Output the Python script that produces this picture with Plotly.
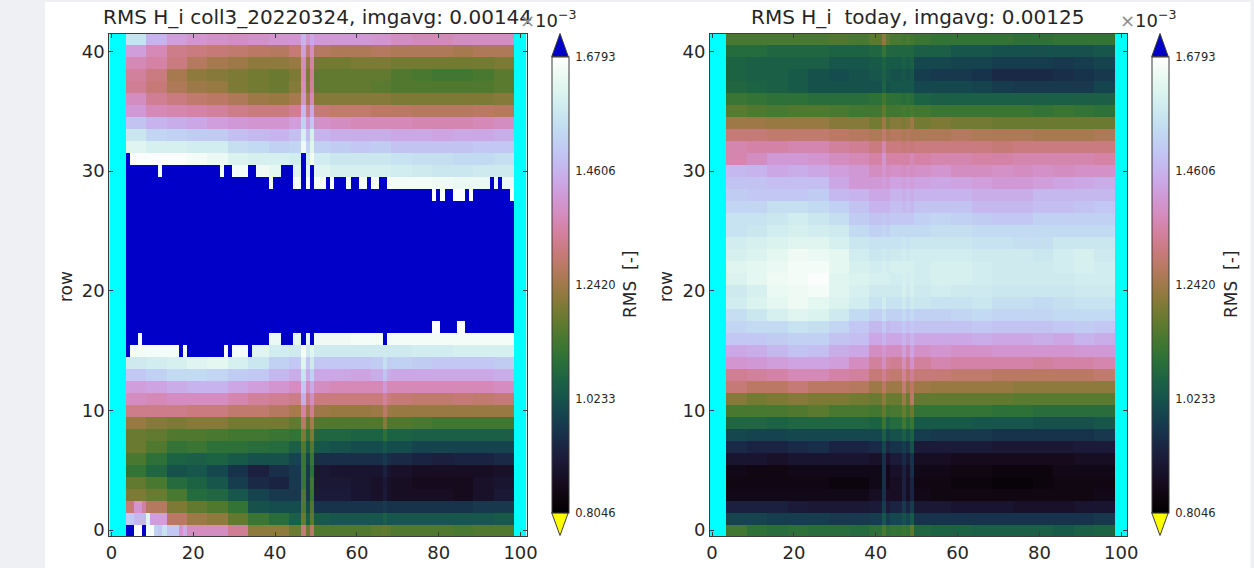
import math
import numpy as np
import plotly.graph_objects as go

W, H = 1254, 568
ZMIN, ZMAX = 0.8046, 1.6793
OVER = 1.75
BLOCK = 5              # each listed value covers five neighbouring columns
FIRST_COL, LAST_COL = 4, 98
N_COLS, N_ROWS = 102, 42

cbar_ticks = [0.8046, 1.0233, 1.2420, 1.4606, 1.6793]
cbar_labels = ["0.8046", "1.0233", "1.2420", "1.4606", "1.6793"]
x_ticks = [0, 20, 40, 60, 80, 100]
y_ticks = [0, 10, 20, 30, 40]
title_left = "RMS H_i coll3_20220324, imgavg: 0.00144"
title_right = "RMS H_i\u00a0\u00a0today, imgavg: 0.00125"

# RMS x 1e3, row 0 first, blocks of columns 4-8, 9-13, ... 94-98
left_rows = [
 [1.67,1.55,1.45,1.38,1.38,1.33,1.22,1.22,1.18,1.15,1.15,1.15,1.16,1.15,1.15,1.15,1.14,1.15,1.15],
 [1.47,1.42,1.28,1.24,1.22,1.17,1.12,1.09,1.05,1.04,1.03,1.03,1.03,1.03,1.03,1.03,1.03,1.03,1.04],
 [1.30,1.27,1.20,1.17,1.15,1.11,1.02,1.01,1.01,0.96,0.96,0.96,0.96,0.96,0.96,0.96,0.96,0.97,0.97],
 [1.20,1.18,1.14,1.08,1.07,1.03,0.99,0.97,0.97,0.91,0.91,0.89,0.88,0.87,0.87,0.87,0.86,0.88,0.90],
 [1.17,1.14,1.08,1.06,1.03,0.98,0.94,0.93,0.97,0.90,0.90,0.89,0.88,0.87,0.86,0.86,0.86,0.88,0.89],
 [1.11,1.07,1.02,1.03,1.00,0.96,0.92,0.95,0.97,0.90,0.89,0.89,0.89,0.88,0.87,0.87,0.87,0.87,0.88],
 [1.14,1.10,1.06,1.05,1.06,1.04,1.02,1.02,0.99,0.95,0.95,0.95,0.95,0.94,0.93,0.92,0.93,0.93,0.94],
 [1.18,1.15,1.11,1.12,1.10,1.10,1.09,1.08,1.05,1.03,1.02,1.01,1.01,1.01,0.99,0.99,0.99,0.99,0.99],
 [1.18,1.17,1.15,1.15,1.14,1.13,1.13,1.12,1.11,1.07,1.07,1.06,1.06,1.06,1.05,1.05,1.05,1.05,1.05],
 [1.23,1.21,1.20,1.21,1.21,1.19,1.19,1.19,1.17,1.15,1.15,1.15,1.15,1.15,1.14,1.13,1.13,1.13,1.13],
 [1.32,1.32,1.32,1.31,1.31,1.29,1.29,1.27,1.25,1.24,1.23,1.23,1.24,1.23,1.23,1.23,1.23,1.23,1.23],
 [1.38,1.37,1.38,1.38,1.38,1.36,1.34,1.33,1.32,1.31,1.31,1.31,1.31,1.30,1.29,1.29,1.30,1.29,1.30],
 [1.42,1.43,1.45,1.46,1.46,1.44,1.42,1.40,1.38,1.38,1.37,1.37,1.37,1.37,1.37,1.37,1.37,1.37,1.38],
 [1.50,1.52,1.54,1.54,1.53,1.51,1.50,1.47,1.45,1.44,1.44,1.43,1.45,1.44,1.44,1.44,1.44,1.44,1.45],
 [1.58,1.59,1.60,1.62,1.63,1.60,1.57,1.52,1.50,1.50,1.50,1.50,1.51,1.52,1.51,1.50,1.50,1.50,1.51],
 [1.66,1.66,1.66,1.67,1.67,1.66,1.62,1.59,1.58,1.58,1.58,1.58,1.58,1.58,1.59,1.59,1.60,1.60,1.60],
 [1.66,1.66,1.66,1.66,1.66,1.66,1.66,1.64,1.63,1.65,1.65,1.66,1.66,1.66,1.66,1.66,1.66,1.66,1.66],
 [1.67,1.67,1.67,1.67,1.67,1.67,1.67,1.67,1.67,1.67,1.67,1.67,1.67,1.67,1.67,1.67,1.67,1.67,1.67],
 [1.75,1.75,1.75,1.75,1.75,1.75,1.75,1.75,1.75,1.75,1.75,1.75,1.75,1.75,1.75,1.75,1.75,1.75,1.75],
 [1.75,1.75,1.75,1.75,1.75,1.75,1.75,1.75,1.75,1.75,1.75,1.75,1.75,1.75,1.75,1.75,1.75,1.75,1.75],
 [1.75,1.75,1.75,1.75,1.75,1.75,1.75,1.75,1.75,1.75,1.75,1.75,1.75,1.75,1.75,1.75,1.75,1.75,1.75],
 [1.75,1.75,1.75,1.75,1.75,1.75,1.75,1.75,1.75,1.75,1.75,1.75,1.75,1.75,1.75,1.75,1.75,1.75,1.75],
 [1.75,1.75,1.75,1.75,1.75,1.75,1.75,1.75,1.75,1.75,1.75,1.75,1.75,1.75,1.75,1.75,1.75,1.75,1.75],
 [1.75,1.75,1.75,1.75,1.75,1.75,1.75,1.75,1.75,1.75,1.75,1.75,1.75,1.75,1.75,1.75,1.75,1.75,1.75],
 [1.75,1.75,1.75,1.75,1.75,1.75,1.75,1.75,1.75,1.75,1.75,1.75,1.75,1.75,1.75,1.75,1.75,1.75,1.75],
 [1.75,1.75,1.75,1.75,1.75,1.75,1.75,1.75,1.75,1.75,1.75,1.75,1.75,1.75,1.75,1.75,1.75,1.75,1.75],
 [1.75,1.75,1.75,1.75,1.75,1.75,1.75,1.75,1.75,1.75,1.75,1.75,1.75,1.75,1.75,1.75,1.75,1.75,1.75],
 [1.75,1.75,1.75,1.75,1.75,1.75,1.75,1.75,1.75,1.75,1.75,1.75,1.75,1.75,1.75,1.75,1.75,1.75,1.75],
 [1.67,1.67,1.67,1.67,1.67,1.67,1.67,1.67,1.67,1.67,1.67,1.67,1.67,1.67,1.67,1.67,1.67,1.67,1.67],
 [1.65,1.65,1.65,1.66,1.66,1.66,1.66,1.66,1.66,1.66,1.66,1.66,1.66,1.66,1.66,1.65,1.64,1.64,1.64],
 [1.65,1.66,1.66,1.66,1.66,1.66,1.65,1.63,1.62,1.62,1.60,1.60,1.60,1.59,1.58,1.57,1.57,1.58,1.58],
 [1.67,1.67,1.67,1.66,1.64,1.61,1.60,1.60,1.59,1.59,1.57,1.57,1.57,1.56,1.55,1.55,1.54,1.54,1.55],
 [1.62,1.60,1.60,1.59,1.59,1.55,1.54,1.52,1.53,1.52,1.51,1.50,1.51,1.49,1.49,1.49,1.49,1.50,1.50],
 [1.57,1.53,1.52,1.51,1.51,1.48,1.47,1.46,1.48,1.46,1.45,1.45,1.45,1.44,1.44,1.43,1.44,1.44,1.45],
 [1.49,1.46,1.45,1.44,1.42,1.41,1.40,1.40,1.42,1.39,1.38,1.37,1.37,1.37,1.36,1.36,1.36,1.37,1.38],
 [1.41,1.37,1.36,1.35,1.34,1.32,1.31,1.31,1.33,1.30,1.29,1.29,1.28,1.28,1.27,1.27,1.27,1.28,1.27],
 [1.38,1.33,1.31,1.29,1.28,1.26,1.24,1.23,1.25,1.21,1.21,1.21,1.21,1.20,1.20,1.20,1.20,1.20,1.21],
 [1.33,1.30,1.26,1.24,1.23,1.20,1.19,1.18,1.21,1.17,1.17,1.17,1.16,1.15,1.15,1.15,1.15,1.15,1.16],
 [1.34,1.31,1.25,1.22,1.21,1.20,1.19,1.18,1.20,1.17,1.17,1.17,1.17,1.15,1.14,1.13,1.13,1.14,1.16],
 [1.37,1.35,1.31,1.27,1.25,1.24,1.22,1.22,1.23,1.19,1.19,1.20,1.20,1.19,1.19,1.19,1.19,1.19,1.20],
 [1.42,1.37,1.32,1.31,1.30,1.29,1.28,1.27,1.30,1.27,1.26,1.26,1.27,1.26,1.26,1.26,1.25,1.26,1.26],
 [1.56,1.46,1.42,1.40,1.39,1.38,1.39,1.40,1.40,1.41,1.41,1.41,1.40,1.38,1.37,1.37,1.38,1.38,1.38],
]

right_rows = [
 [1.13,1.10,1.09,1.10,1.09,1.09,1.08,1.10,1.11,1.07,1.06,1.06,1.05,1.05,1.05,1.05,1.04,1.05,1.06],
 [0.99,0.99,0.98,0.98,0.98,0.97,0.97,0.98,1.00,0.96,0.96,0.96,0.96,0.96,0.96,0.96,0.96,0.96,0.97],
 [0.92,0.92,0.92,0.91,0.90,0.90,0.90,0.91,0.93,0.90,0.90,0.89,0.89,0.89,0.88,0.88,0.88,0.89,0.89],
 [0.85,0.85,0.85,0.85,0.85,0.85,0.85,0.87,0.87,0.85,0.84,0.84,0.84,0.84,0.84,0.84,0.84,0.84,0.85],
 [0.84,0.84,0.84,0.84,0.84,0.83,0.83,0.85,0.87,0.84,0.84,0.83,0.83,0.82,0.82,0.83,0.84,0.84,0.84],
 [0.85,0.84,0.84,0.85,0.85,0.85,0.85,0.85,0.88,0.85,0.85,0.84,0.84,0.83,0.83,0.83,0.85,0.85,0.85],
 [0.89,0.89,0.88,0.89,0.89,0.89,0.89,0.88,0.91,0.87,0.87,0.86,0.86,0.86,0.86,0.86,0.86,0.87,0.87],
 [0.94,0.93,0.93,0.94,0.95,0.93,0.93,0.94,0.96,0.91,0.91,0.91,0.91,0.90,0.90,0.90,0.90,0.91,0.91],
 [1.00,0.99,0.99,1.00,1.00,1.00,1.00,1.00,1.02,0.98,0.97,0.97,0.97,0.96,0.96,0.96,0.96,0.96,0.97],
 [1.07,1.07,1.06,1.07,1.07,1.07,1.07,1.06,1.08,1.04,1.04,1.04,1.03,1.03,1.03,1.02,1.02,1.02,1.03],
 [1.14,1.14,1.14,1.15,1.16,1.14,1.14,1.13,1.14,1.11,1.11,1.11,1.11,1.10,1.10,1.09,1.09,1.09,1.09],
 [1.21,1.19,1.20,1.21,1.20,1.20,1.19,1.18,1.18,1.17,1.17,1.17,1.17,1.17,1.16,1.16,1.16,1.16,1.16],
 [1.30,1.28,1.28,1.30,1.28,1.28,1.27,1.24,1.24,1.24,1.23,1.23,1.23,1.23,1.22,1.22,1.22,1.22,1.22],
 [1.33,1.34,1.35,1.37,1.37,1.35,1.34,1.30,1.29,1.30,1.30,1.29,1.29,1.28,1.28,1.28,1.28,1.28,1.29],
 [1.40,1.41,1.42,1.43,1.43,1.42,1.38,1.34,1.33,1.34,1.36,1.35,1.35,1.35,1.35,1.34,1.35,1.35,1.36],
 [1.44,1.45,1.47,1.49,1.48,1.45,1.44,1.38,1.38,1.39,1.40,1.39,1.39,1.40,1.40,1.40,1.40,1.41,1.41],
 [1.50,1.50,1.51,1.52,1.52,1.49,1.48,1.44,1.44,1.44,1.44,1.44,1.45,1.44,1.44,1.45,1.44,1.46,1.45],
 [1.53,1.54,1.54,1.56,1.55,1.53,1.50,1.47,1.48,1.49,1.49,1.49,1.50,1.49,1.49,1.49,1.50,1.51,1.50],
 [1.55,1.57,1.60,1.62,1.61,1.58,1.54,1.52,1.52,1.52,1.52,1.53,1.54,1.53,1.53,1.53,1.54,1.54,1.54],
 [1.59,1.61,1.63,1.65,1.63,1.61,1.59,1.56,1.56,1.57,1.56,1.56,1.57,1.55,1.55,1.54,1.55,1.56,1.56],
 [1.58,1.60,1.64,1.65,1.66,1.62,1.60,1.58,1.58,1.58,1.59,1.58,1.58,1.57,1.57,1.57,1.57,1.58,1.58],
 [1.61,1.63,1.65,1.66,1.67,1.62,1.61,1.60,1.59,1.59,1.60,1.60,1.59,1.58,1.58,1.58,1.58,1.59,1.59],
 [1.62,1.63,1.64,1.66,1.66,1.63,1.60,1.59,1.60,1.59,1.60,1.60,1.59,1.58,1.58,1.58,1.59,1.60,1.59],
 [1.60,1.61,1.63,1.65,1.64,1.63,1.59,1.57,1.58,1.59,1.59,1.59,1.58,1.58,1.58,1.57,1.59,1.60,1.58],
 [1.59,1.60,1.61,1.62,1.62,1.60,1.57,1.56,1.56,1.57,1.57,1.57,1.56,1.56,1.55,1.55,1.57,1.57,1.57],
 [1.56,1.57,1.59,1.60,1.59,1.58,1.54,1.52,1.54,1.54,1.55,1.55,1.54,1.54,1.54,1.54,1.54,1.54,1.54],
 [1.56,1.56,1.57,1.59,1.57,1.55,1.51,1.49,1.50,1.52,1.53,1.52,1.51,1.50,1.50,1.52,1.52,1.52,1.52],
 [1.53,1.53,1.55,1.55,1.54,1.52,1.49,1.46,1.48,1.49,1.49,1.49,1.47,1.47,1.47,1.48,1.48,1.49,1.50],
 [1.51,1.50,1.50,1.50,1.51,1.47,1.46,1.44,1.46,1.46,1.46,1.46,1.45,1.45,1.45,1.47,1.47,1.47,1.47],
 [1.49,1.49,1.48,1.48,1.48,1.44,1.41,1.41,1.43,1.43,1.44,1.43,1.42,1.41,1.41,1.42,1.43,1.44,1.45],
 [1.47,1.46,1.44,1.45,1.44,1.42,1.41,1.38,1.39,1.39,1.40,1.38,1.38,1.39,1.38,1.39,1.38,1.39,1.39],
 [1.36,1.38,1.41,1.41,1.40,1.38,1.37,1.35,1.35,1.35,1.36,1.36,1.35,1.35,1.36,1.36,1.36,1.36,1.35],
 [1.36,1.35,1.35,1.36,1.36,1.34,1.33,1.31,1.31,1.31,1.31,1.31,1.31,1.30,1.31,1.31,1.31,1.31,1.31],
 [1.30,1.30,1.29,1.29,1.29,1.28,1.27,1.26,1.27,1.26,1.26,1.27,1.26,1.26,1.26,1.25,1.25,1.25,1.26],
 [1.24,1.24,1.23,1.23,1.23,1.21,1.21,1.19,1.21,1.19,1.20,1.19,1.19,1.18,1.18,1.18,1.18,1.18,1.18],
 [1.16,1.15,1.14,1.15,1.15,1.14,1.13,1.13,1.13,1.13,1.12,1.12,1.12,1.12,1.12,1.11,1.12,1.11,1.10],
 [1.12,1.11,1.10,1.10,1.09,1.09,1.09,1.10,1.10,1.06,1.05,1.05,1.05,1.05,1.05,1.05,1.05,1.05,1.05],
 [1.07,1.06,1.05,1.04,1.02,1.02,1.02,1.02,1.03,1.00,1.00,1.00,0.99,0.98,0.97,0.97,0.97,0.97,0.99],
 [1.06,1.05,1.05,1.04,1.02,1.01,1.02,1.03,1.02,0.98,0.97,0.97,0.96,0.94,0.94,0.94,0.95,0.96,0.97],
 [1.06,1.05,1.05,1.05,1.05,1.03,1.03,1.04,1.04,1.00,1.00,0.99,0.99,0.98,0.98,0.98,0.97,0.98,0.99],
 [1.08,1.08,1.07,1.07,1.07,1.06,1.06,1.07,1.07,1.05,1.05,1.03,1.03,1.02,1.02,1.02,1.02,1.02,1.03],
 [1.14,1.14,1.14,1.14,1.14,1.15,1.14,1.16,1.14,1.12,1.11,1.11,1.11,1.11,1.10,1.10,1.11,1.11,1.11],
]

# Single columns that stand out from their neighbours, row 0 first
left_col47 = [1.30,1.18,1.15,1.15,1.12,1.12,1.12,1.15,1.20,1.28,1.35,1.45,1.50,1.56,1.62,1.66,
              1.75,1.75,1.75,1.75,1.75,1.75,1.75,1.75,1.75,1.75,1.75,1.75,1.75,1.75,1.75,1.75,
              1.65,1.60,1.52,1.47,1.40,1.38,1.37,1.38,1.42,1.46]
left_col49 = [1.28,1.16,1.15,1.12,1.13,1.10,1.12,1.15,1.20,1.25,1.33,1.38,1.44,1.52,1.58,1.62,
              1.75,1.75,1.75,1.75,1.75,1.75,1.75,1.75,1.75,1.75,1.75,1.75,1.75,1.75,1.75,1.66,
              1.62,1.60,1.50,1.44,1.37,1.34,1.33,1.35,1.38,1.44]
left_col67_low = [1.17,1.05,0.97,0.91,0.90,0.92,0.97,1.03,1.10,1.21,1.28,1.34,1.41,1.49,1.55]
right_col42 = [1.14,1.03,0.98,0.95,0.95,0.95,0.95,1.00,1.05,1.12,1.17,1.22,1.28,1.33,1.38,1.40,1.46,
               1.50,1.55,1.59,1.58,1.60,1.60,1.58,1.56,1.53,1.50,1.46,1.44,1.42,1.40,1.40,1.36,1.29,
               1.24,1.17,1.13,1.06,1.05,1.06,1.11,1.22]
right_col47 = [1.12,1.02,0.97,0.92,0.92,0.92,0.94,0.98,1.05,1.13,1.18,1.24,1.30,1.34,1.38,1.42,1.46,
               1.50,1.54,1.58,1.60,1.60,1.60,1.59,1.57,1.54,1.50,1.47,1.45,1.42,1.38,1.35,1.30,1.26,
               1.20,1.14,1.09,1.03,1.03,1.05,1.07,1.13]
right_col49 = [1.16,1.04,0.98,0.93,0.93,0.95,0.96,1.02,1.06,1.12,1.18,1.28,1.28,1.33,1.39,1.43,1.46,
               1.50,1.54,1.58,1.60,1.60,1.60,1.59,1.57,1.54,1.50,1.47,1.45,1.42,1.38,1.37,1.30,1.26,
               1.24,1.14,1.09,1.03,1.03,1.05,1.07,1.13]

# Left panel, cells above the colour range: (row, first column, last column)
left_over_runs = [
 (0,4,5),(0,8,8),
 (15,4,4),(15,17,17),(15,19,27),(15,29,29),(15,34,34),
 (16,4,6),(16,8,38),(16,42,44),(16,47,47),(16,49,49),(16,67,67),
 (17,4,78),(17,81,84),(17,87,98),
 (28,4,78),(28,80,80),(28,82,83),(28,87,87),(28,89,97),
 (29,4,38),(29,40,44),(29,47,47),(29,49,49),(29,53,53),(29,55,57),(29,59,60),
 (29,63,63),(29,66,67),(29,93,93),(29,95,95),
 (30,4,11),(30,13,26),(30,28,29),(30,34,35),(30,42,44),(30,47,47),(30,49,49),
 (31,4,4),(31,47,47),
]
# Left panel, bottom corner cells: (row, column, value)
left_cells = [(0,6,1.67),(0,7,1.67),(0,9,1.66),(0,10,1.66),(0,11,1.52),(0,12,1.50),(0,13,1.56),
              (0,14,1.50),(0,15,1.50),(0,16,1.50),(0,17,1.40),(1,9,1.62),(1,4,1.50),(1,5,1.50),
              (2,5,1.30),(2,6,1.40),(2,7,1.40),(2,8,1.34)]


def build(rows, stripes):
    z = np.full((N_ROWS, N_COLS), np.nan)
    for r, vals in enumerate(rows):
        z[r, FIRST_COL:LAST_COL + 1] = np.repeat(vals, BLOCK)
    for col, vals in stripes:
        z[:len(vals), col] = vals
    return z


z_left = build(left_rows, [(47, left_col47), (49, left_col49), (67, left_col67_low)])
z_right = build(right_rows, [(42, right_col42), (47, right_col47), (49, right_col49)])
for r, a, b in left_over_runs:
    z_left[r, a:b + 1] = OVER
for r, c, v in left_cells:
    z_left[r, c] = v


def cubehelix(n=48, s=0.5, r=-1.5, h=1.0):
    stops = []
    for i in range(n + 1):
        x = i / n
        a = h * x * (1 - x) / 2
        phi = 2 * math.pi * (s / 3 + r * x)
        c, d = math.cos(phi), math.sin(phi)
        rgb = (x + a * (-0.14861 * c + 1.78277 * d),
               x + a * (-0.29227 * c - 0.90649 * d),
               x + a * (1.97294 * c))
        rgb = [int(round(255 * min(1, max(0, v)))) for v in rgb]
        stops.append([x, f"rgb({rgb[0]},{rgb[1]},{rgb[2]})"])
    return stops


px = lambda v: v / W
py = lambda v: 1 - v / H

INK = "#262626"
AXIS = "#3c3c3c"
BLUE = "#0000c8"
CYAN = "#00ffff"
FONT = "DejaVu Sans"
CMAP = cubehelix()

panels = [
    dict(x0=109.3, x1=526.7, cb=551.7, z=z_left, xa="x", ya="y", title=title_left, tcx=318, ttl=317,
         tsize=20, lab=630, row=66, exp=518),
    dict(x0=710.0, x1=1127.4, cb=1151.7, z=z_right, xa="x2", ya="y2", title=title_right, tcx=918.7, ttl=917,
         tsize=20, lab=1231, row=666, exp=1118),
]

fig = go.Figure()
shapes = [dict(type="rect", xref="paper", yref="paper", x0=px(45), x1=px(1250.5), y0=0, y1=py(2),
               fillcolor="white", line_width=0, layer="below")]
annotations = []
CB_W = 16.6
CB_TOP, CB_BOT = 56.7, 512.7
for p in panels:
    grid = dict(x=list(range(N_COLS)), y=list(range(N_ROWS)), xaxis=p["xa"], yaxis=p["ya"],
                hoverongaps=False, showscale=False)
    bad = np.where(np.isnan(p["z"]), 1.0, np.nan)
    fig.add_trace(go.Heatmap(z=bad, colorscale=[[0, CYAN], [1, CYAN]], **grid))
    main = np.where(p["z"] > ZMAX, np.nan, p["z"])
    fig.add_trace(go.Heatmap(
        z=main, x=grid["x"], y=grid["y"], xaxis=p["xa"], yaxis=p["ya"],
        zmin=ZMIN, zmax=ZMAX, colorscale=CMAP, hoverongaps=False,
        colorbar=dict(
            x=px(p["cb"]), xanchor="left", xref="paper", xpad=0, ypad=0,
            y=py(CB_BOT), yanchor="bottom", yref="paper", len=(CB_BOT - CB_TOP) / H,
            thickness=CB_W, outlinecolor=AXIS, outlinewidth=1,
            tickmode="array", tickvals=cbar_ticks, ticktext=cbar_labels, ticks="outside",
            ticklen=4, tickcolor="rgba(0,0,0,0)", tickwidth=1,
            tickfont=dict(family=FONT, size=11.5, color=INK),
        ),
    ))
    over = np.where(p["z"] > ZMAX, p["z"], np.nan)
    if np.isfinite(over).any():
        fig.add_trace(go.Heatmap(z=over, colorscale=[[0, BLUE], [1, BLUE]], **grid))
    xc = p["cb"] + CB_W / 2
    x_l, x_r = p["cb"], p["cb"] + CB_W
    shapes.append(dict(type="path", xref="paper", yref="paper",
                       path=f"M{px(x_l)},{py(CB_TOP)} L{px(x_r)},{py(CB_TOP)} L{px(xc)},{py(33.5)} Z",
                       fillcolor=BLUE, line=dict(color=AXIS, width=1)))
    shapes.append(dict(type="path", xref="paper", yref="paper",
                       path=f"M{px(x_l)},{py(CB_BOT)} L{px(x_r)},{py(CB_BOT)} L{px(xc)},{py(535.5)} Z",
                       fillcolor="#ffff00", line=dict(color=AXIS, width=1)))
    for tv in cbar_ticks:
        yy = py(CB_BOT) + (tv - ZMIN) / (ZMAX - ZMIN) * (CB_BOT - CB_TOP) / H
        shapes.append(dict(type="line", xref="paper", yref="paper", x0=px(x_r - 5), x1=px(x_r), y0=yy, y1=yy,
                           line=dict(color=AXIS, width=1)))
    annotations += [
        dict(text=p["title"], xref="paper", yref="paper", x=px(p["ttl"]), y=py(31), xanchor="center",
             yanchor="bottom", showarrow=False, font=dict(family=FONT, size=p["tsize"], color=INK)),
        dict(text="<span style='color:#8c8c8c'>\u00d7</span>10<sup>\u22123</sup>", xref="paper", yref="paper",
             x=px(p["exp"]), y=py(33), xanchor="left", yanchor="bottom", showarrow=False,
             font=dict(family=FONT, size=18, color=INK)),
        dict(text="row", xref="paper", yref="paper", x=px(p["row"]), y=py(287), textangle=-90,
             xanchor="center", yanchor="middle", showarrow=False, font=dict(family=FONT, size=17, color=INK)),
        dict(text="RMS\u00a0\u00a0[-]", xref="paper", yref="paper", x=px(p["lab"]), y=py(285), textangle=-90,
             xanchor="center", yanchor="middle", showarrow=False, font=dict(family=FONT, size=17, color=INK)),
        dict(text="column", xref="paper", yref="paper", x=px(p["tcx"]), y=py(564), xanchor="center",
             yanchor="top", showarrow=False, font=dict(family=FONT, size=18, color=INK)),
    ]

axis_common = dict(
    showgrid=False, zeroline=False, showline=True, linecolor=AXIS, linewidth=1, mirror="ticks",
    ticks="inside", ticklen=4, tickcolor=AXIS, tickwidth=1,
    tickfont=dict(family=FONT, size=18, color=INK),
)
ydom = [py(536), py(33.5)]
layout_axes = {}
for i, p in enumerate(panels):
    sx = "" if i == 0 else "2"
    layout_axes["xaxis" + sx] = dict(axis_common, domain=[px(p["x0"]), px(p["x1"])], range=[-0.5, 101.5],
                                     tickmode="array", tickvals=x_ticks, anchor="y" + sx)
    layout_axes["yaxis" + sx] = dict(axis_common, domain=ydom, range=[-0.5, 41.5],
                                     tickmode="array", tickvals=y_ticks, anchor="x" + sx)

fig.update_layout(
    width=W, height=H, margin=dict(l=0, r=0, t=0, b=0, autoexpand=False), autosize=False,
    paper_bgcolor="#eef0f4", plot_bgcolor="white",
    shapes=shapes, annotations=annotations, showlegend=False,
    **layout_axes,
)

fig.write_html("out.html", config=dict(displayModeBar=False),
               post_script="document.body.style.margin='0';document.body.style.overflow='hidden';")
